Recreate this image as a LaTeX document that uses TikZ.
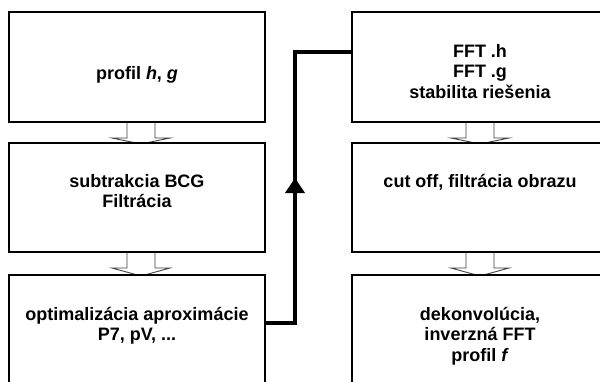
\documentclass[tikz,border=0pt]{standalone}
\usepackage{fontspec}
\setmainfont[Ligatures=CommonOff]{Liberation Sans}
\usetikzlibrary{calc,arrows.meta,decorations.markings,backgrounds}
\newcommand{\flowarrow}[3]{%
  \path[flow] ($(#1.south)+(#3-14,0)$) -- ++(0,16) -- ++(-15,0)
    -- ($(#2.north)+(#3,1)$) -- ($(#1.south)+(#3+29,16)$) -- ++(-15,0)
    -- ($(#1.south)+(#3+14,0)$);}
\begin{document}
\begin{tikzpicture}[x=1pt,y=-1pt,
  box/.style={draw=black,line width=2.2pt,fill=white,minimum width=256pt,
    minimum height=110pt,inner sep=0pt,outer sep=0pt,anchor=north west},
  txt/.style={font=\bfseries\fontsize{18}{20.5}\selectfont,align=center,
    anchor=north,inner sep=0pt},
  flow/.style={draw=black!75,line width=0.9pt,fill=white},
  link/.style={draw=black,line width=4pt,
    postaction={decorate},
    decoration={markings,mark=at position 175pt with
      {\arrow{Triangle[width=19pt,length=15pt]}}}}]
\useasboundingbox (0,0) rectangle (600,381);
\clip (0,0) rectangle (600,381);
% boxes
\node[box] (L1) at (9,12) {};
\node[box,minimum height=109pt] (L2) at (9,143) {};
\node[box] (L3) at (9,275) {};
\node[box] (R1) at (352,12) {};
\node[box,minimum height=109pt] (R2) at (352,143) {};
\node[box] (R3) at (352,275) {};
% texts
\node[txt] (tL1) at (137,65) {\rule{0pt}{14pt}profil \textit{h}, \textit{g}};
\node[txt] (tL2) at (137,173) {\rule{0pt}{14pt}subtrakcia BCG\\Filtrácia};
\node[txt] (tL3) at (137,306) {\rule{0pt}{14pt}optimalizácia aproximácie\\P7, pV, ...};
\node[txt] (tR1) at (480,43) {\rule{0pt}{14pt}FFT .h\\FFT .g\\stabilita riešenia};
\node[txt] (tR2) at (480,173) {\rule{0pt}{14pt}cut off, filtrácia obrazu};
\node[txt] (tR3) at (480,306) {\rule{0pt}{14pt}dekonvolúcia,\\inverzná FFT\\profil \textit{f}};
% hollow flow arrows
\begin{scope}[on background layer]
  \fill[white] (0,0) rectangle (600,381);
  \flowarrow{L1}{L2}{4}
  \flowarrow{L2}{L3}{4}
  \flowarrow{R1}{R2}{0}
  \flowarrow{R2}{R3}{0}
\end{scope}
% thick connector
\coordinate (bend) at (295,52);
\path[link] ($(L3.north east)+(0,48)$) -| (bend) -- ($(R1.north west)+(0,40)$);
\end{tikzpicture}
\end{document}
